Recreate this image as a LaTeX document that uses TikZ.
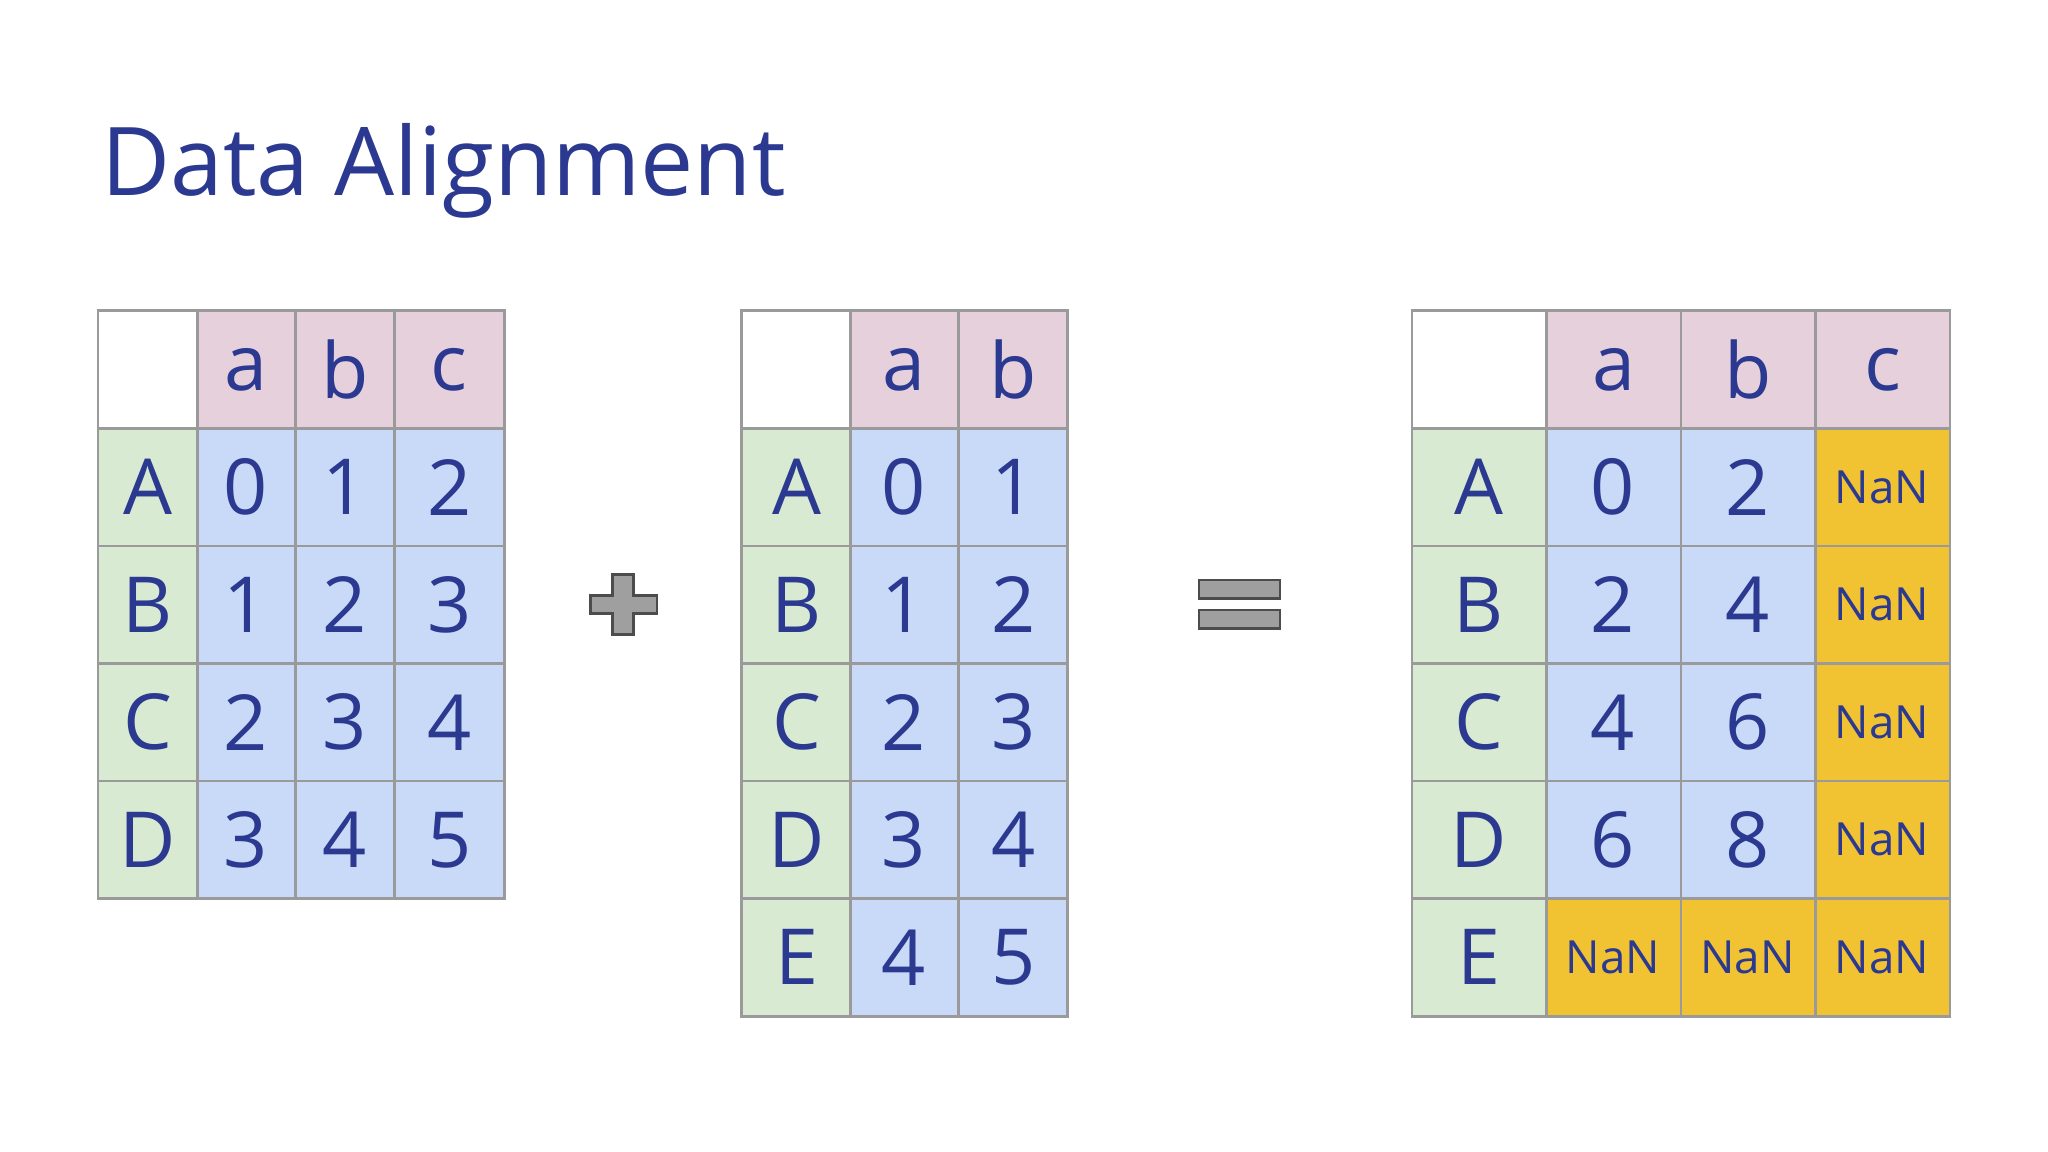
\documentclass[tikz,border=0pt]{standalone}
\usepackage{fontspec}
\setmainfont{Open Sans}
\definecolor{txt}{HTML}{2B3990}
\definecolor{hdr}{HTML}{E6D0DC}
\definecolor{idx}{HTML}{D9EAD3}
\definecolor{val}{HTML}{C9DAF8}
\definecolor{nan}{HTML}{F1C232}
\definecolor{bord}{HTML}{9A9A9A}
\begin{document}
\begin{tikzpicture}[x=0.013061cm,y=-0.013061cm,
  cell/.style={draw=bord,line width=0.8pt,text=txt,inner sep=0pt,font=\fontsize{22}{22}\selectfont},
  nancell/.style={cell,fill=nan,font=\fontsize{13}{13}\selectfont},
  sign/.style={fill=gray!75,draw=black!70,line width=0.8pt}]
\useasboundingbox (0,0) rectangle (1568,882);
\node[anchor=base west,text=txt,font=\fontsize{27}{27}\selectfont] (title) at (68,150) {Data Alignment};
% generic cell macro via pic-less loops
% table 1
\foreach \c/\xa/\xb/\t [count=\i] in {0/75/151/{},1/151/226/a,2/226/302/b,3/302/386/c}{
  \ifnum\c=0 \def\f{white}\else\def\f{hdr}\fi
  \path[fill=\f,draw=bord,line width=0.8pt] (\xa,238) rectangle (\xb,328);
  \node[text=txt,font=\fontsize{22}{22}\selectfont] (t1h\c) at ({(\xa+\xb)/2},283) {\t};
}
\foreach \r/\ya/\l/\va/\vb/\vc in {1/328/A/0/1/2,2/418/B/1/2/3,3/508/C/2/3/4,4/598/D/3/4/5}{
  \path[fill=idx,draw=bord,line width=0.8pt] (75,\ya) rectangle (151,\ya+90);
  \path[fill=val,draw=bord,line width=0.8pt] (151,\ya) rectangle (226,\ya+90);
  \path[fill=val,draw=bord,line width=0.8pt] (226,\ya) rectangle (302,\ya+90);
  \path[fill=val,draw=bord,line width=0.8pt] (302,\ya) rectangle (386,\ya+90);
  \node[text=txt,font=\fontsize{22}{22}\selectfont] (t1r\r i) at (113,\ya+45) {\l};
  \node[text=txt,font=\fontsize{22}{22}\selectfont] (t1r\r a) at (188,\ya+45) {\va};
  \node[text=txt,font=\fontsize{22}{22}\selectfont] (t1r\r b) at (264,\ya+45) {\vb};
  \node[text=txt,font=\fontsize{22}{22}\selectfont] (t1r\r c) at (344,\ya+45) {\vc};
}
% table 2
\foreach \c/\xa/\xb/\t in {0/568/651/{},1/651/734/a,2/734/817/b}{
  \ifnum\c=0 \def\f{white}\else\def\f{hdr}\fi
  \path[fill=\f,draw=bord,line width=0.8pt] (\xa,238) rectangle (\xb,328);
  \node[text=txt,font=\fontsize{22}{22}\selectfont] (t2h\c) at ({(\xa+\xb)/2},283) {\t};
}
\foreach \r/\ya/\l/\va/\vb in {1/328/A/0/1,2/418/B/1/2,3/508/C/2/3,4/598/D/3/4,5/688/E/4/5}{
  \path[fill=idx,draw=bord,line width=0.8pt] (568,\ya) rectangle (651,\ya+90);
  \path[fill=val,draw=bord,line width=0.8pt] (651,\ya) rectangle (734,\ya+90);
  \path[fill=val,draw=bord,line width=0.8pt] (734,\ya) rectangle (817,\ya+90);
  \node[text=txt,font=\fontsize{22}{22}\selectfont] (t2r\r i) at (610,\ya+45) {\l};
  \node[text=txt,font=\fontsize{22}{22}\selectfont] (t2r\r a) at (692,\ya+45) {\va};
  \node[text=txt,font=\fontsize{22}{22}\selectfont] (t2r\r b) at (776,\ya+45) {\vb};
}
% table 3
\foreach \c/\xa/\xb/\t in {0/1081/1184/{},1/1184/1287/a,2/1287/1390/b,3/1390/1493/c}{
  \ifnum\c=0 \def\f{white}\else\def\f{hdr}\fi
  \path[fill=\f,draw=bord,line width=0.8pt] (\xa,238) rectangle (\xb,328);
  \node[text=txt,font=\fontsize{22}{22}\selectfont] (t3h\c) at ({(\xa+\xb)/2},283) {\t};
}
\foreach \r/\ya/\l/\va/\vb in {1/328/A/0/2,2/418/B/2/4,3/508/C/4/6,4/598/D/6/8}{
  \path[fill=idx,draw=bord,line width=0.8pt] (1081,\ya) rectangle (1184,\ya+90);
  \path[fill=val,draw=bord,line width=0.8pt] (1184,\ya) rectangle (1287,\ya+90);
  \path[fill=val,draw=bord,line width=0.8pt] (1287,\ya) rectangle (1390,\ya+90);
  \path[fill=nan,draw=bord,line width=0.8pt] (1390,\ya) rectangle (1493,\ya+90);
  \node[text=txt,font=\fontsize{22}{22}\selectfont] (t3r\r i) at (1132,\ya+45) {\l};
  \node[text=txt,font=\fontsize{22}{22}\selectfont] (t3r\r a) at (1235,\ya+45) {\va};
  \node[text=txt,font=\fontsize{22}{22}\selectfont] (t3r\r b) at (1338,\ya+45) {\vb};
  \node[text=txt,font=\fontsize{13}{13}\selectfont] (t3r\r c) at (1441,\ya+45) {NaN};
}
\path[fill=idx,draw=bord,line width=0.8pt] (1081,688) rectangle (1184,778);
\path[fill=nan,draw=bord,line width=0.8pt] (1184,688) rectangle (1287,778);
\path[fill=nan,draw=bord,line width=0.8pt] (1287,688) rectangle (1390,778);
\path[fill=nan,draw=bord,line width=0.8pt] (1390,688) rectangle (1493,778);
\node[text=txt,font=\fontsize{22}{22}\selectfont] (t3r5i) at (1132,733) {E};
\node[text=txt,font=\fontsize{13}{13}\selectfont] (t3r5a) at (1235,733) {NaN};
\node[text=txt,font=\fontsize{13}{13}\selectfont] (t3r5b) at (1338,733) {NaN};
\node[text=txt,font=\fontsize{13}{13}\selectfont] (t3r5c) at (1441,733) {NaN};
% plus
\path[sign] (469,440) -- (485,440) -- (485,456) -- (503,456) -- (503,470) -- (485,470) -- (485,486) -- (469,486) -- (469,470) -- (452,470) -- (452,456) -- (469,456) -- cycle;
% equals
\path[sign] (918,444) rectangle (980,458);
\path[sign] (918,467) rectangle (980,481);
\end{tikzpicture}
\end{document}
